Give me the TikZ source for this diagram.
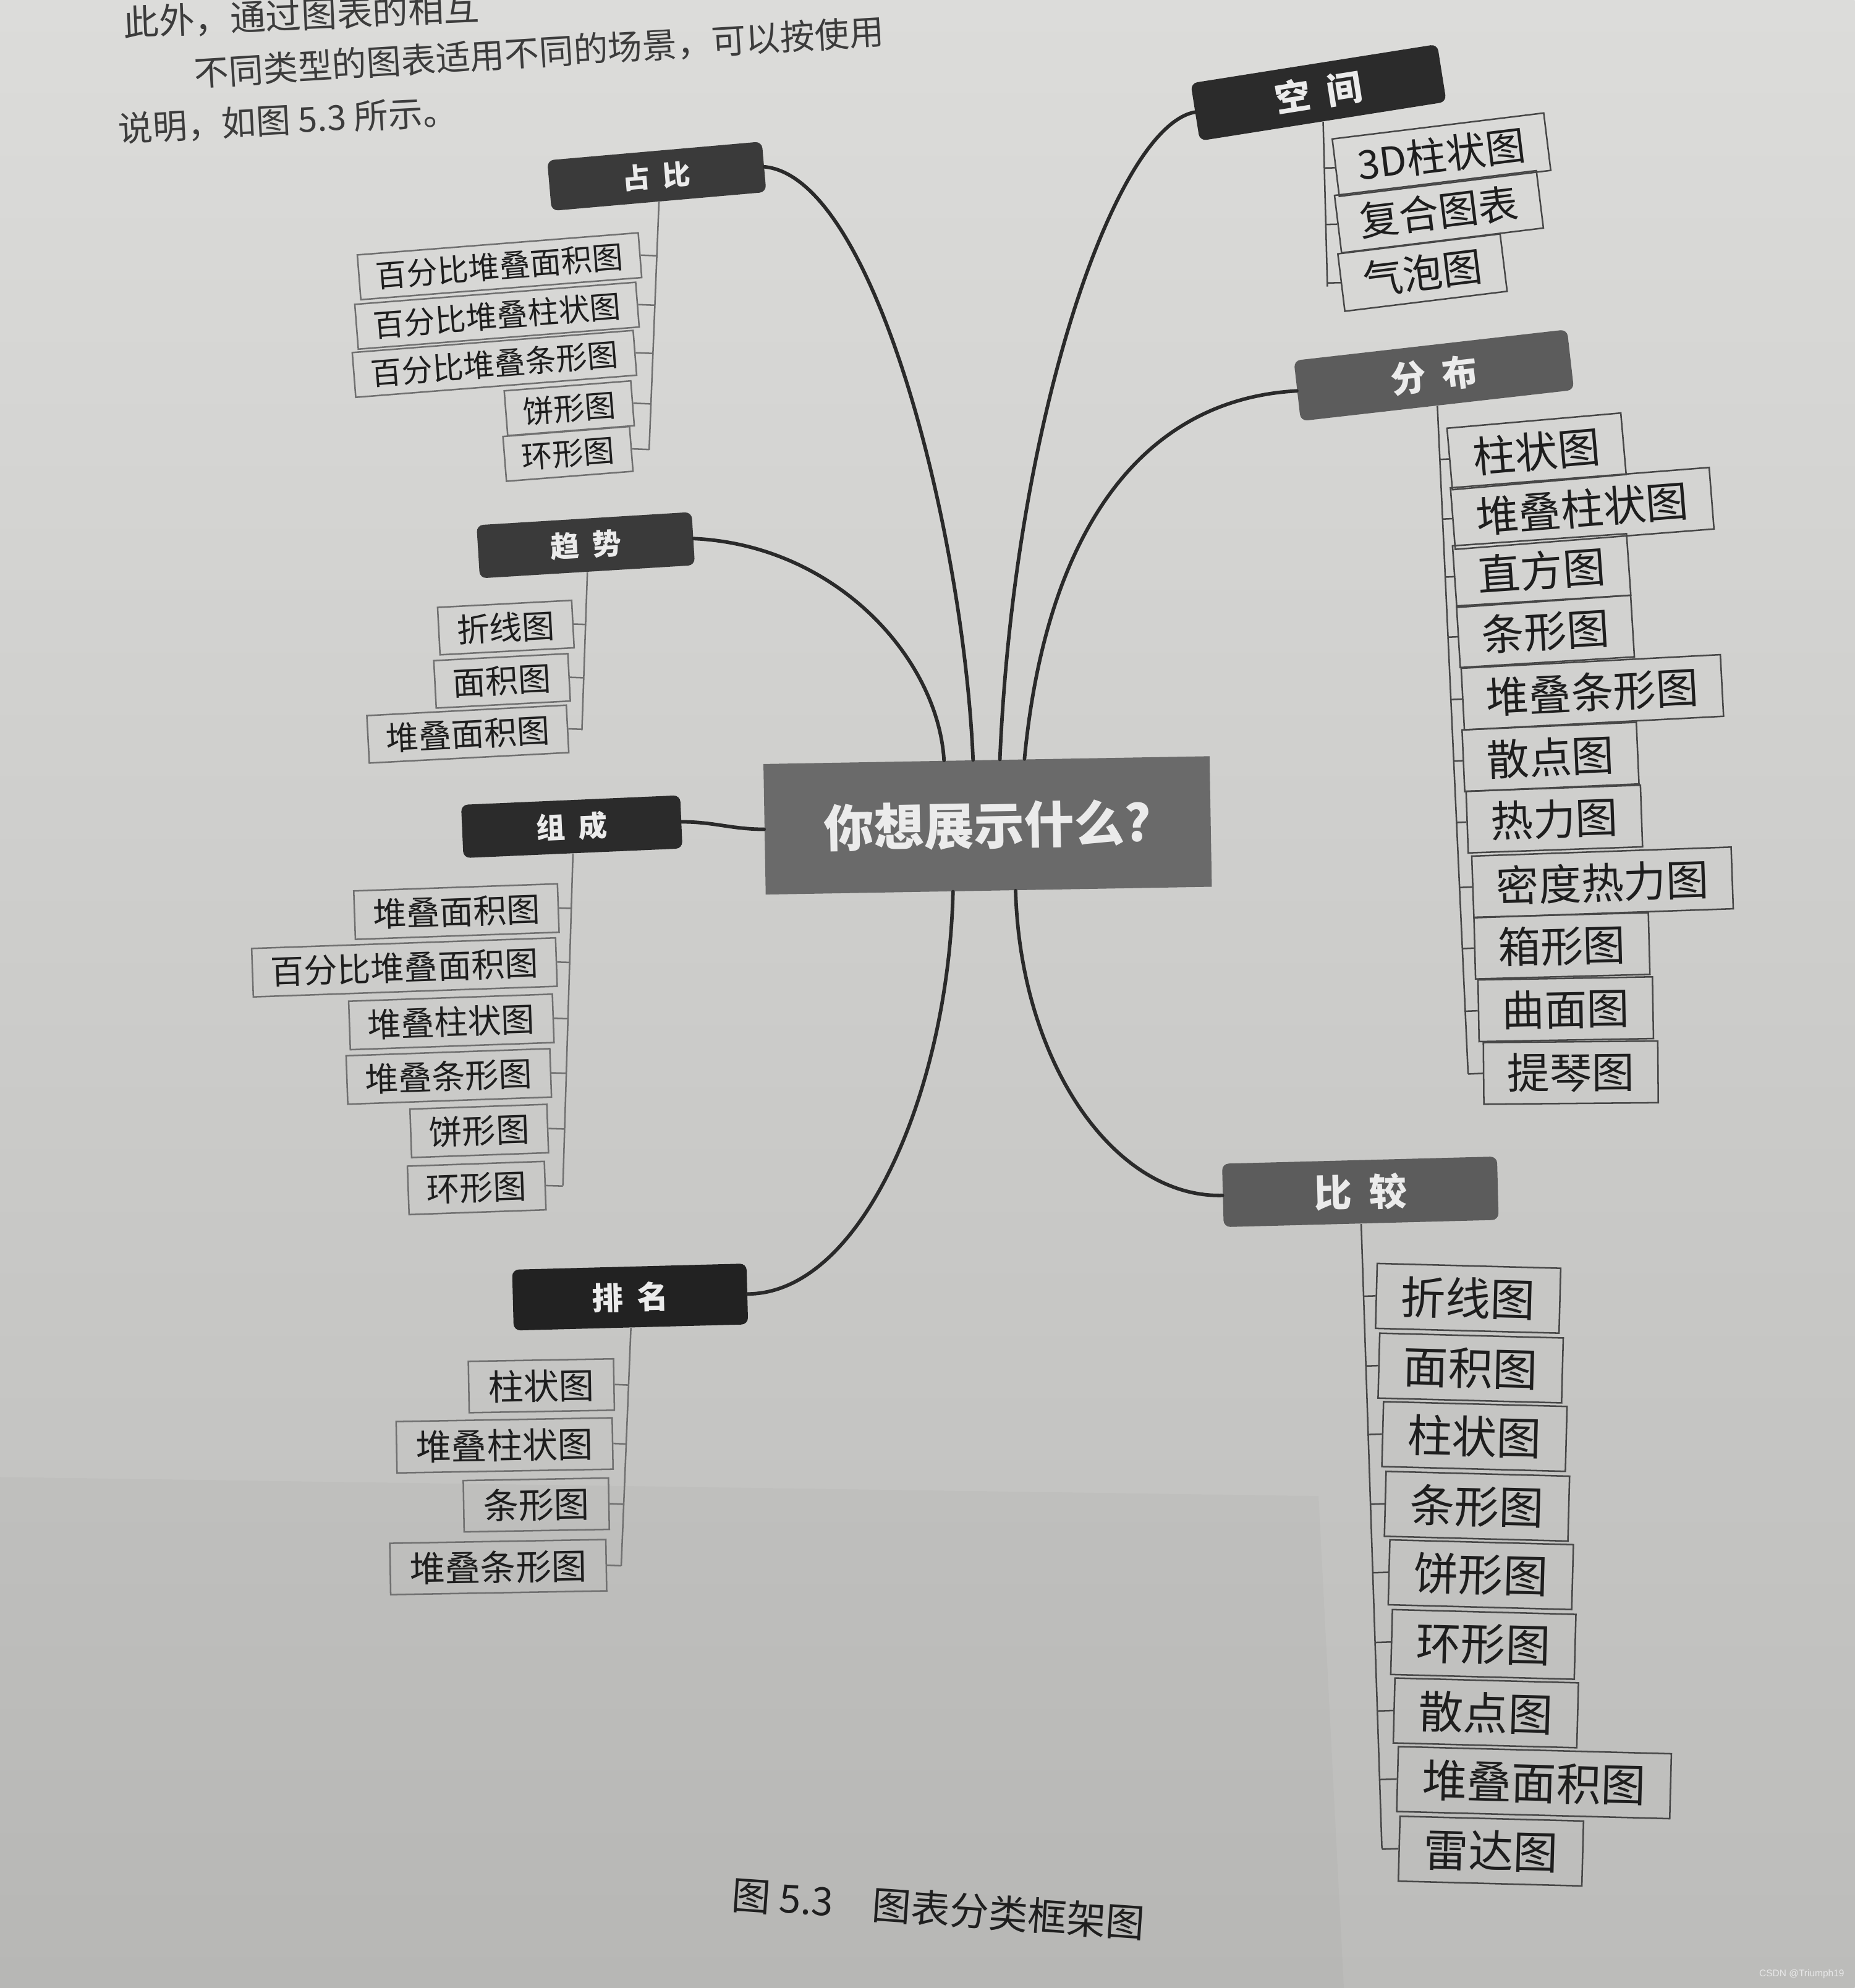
\documentclass[tikz,border=0pt]{standalone}
\usepackage{fontspec}
\newfontfamily\cjk{Noto Sans CJK SC}
\newfontfamily\wmfont{Liberation Sans}
\usetikzlibrary{calc}
\definecolor{bgtop}{HTML}{DCDCDA}
\definecolor{bgmid}{HTML}{D5D5D3}
\definecolor{bgbot}{HTML}{BCBCBA}
\definecolor{klineL}{HTML}{707070}
\definecolor{klineR}{HTML}{474747}
\definecolor{kidtext}{HTML}{1E1E1E}
\definecolor{conncol}{HTML}{2A2A2A}
\definecolor{hdark}{HTML}{2B2B2B}
\definecolor{hdarker}{HTML}{222222}
\definecolor{hgrey}{HTML}{3A3A3A}
\definecolor{hmid}{HTML}{5C5C5C}
\definecolor{hcenter}{HTML}{6A6A6A}
\definecolor{bodytext}{HTML}{3C3C3C}
\tikzset{
 kidbase/.style={line width=0.7pt, font=\cjk\fontsize{#1}{#1}\selectfont, inner xsep={0.55*#1pt}, inner ysep=0pt, minimum height={1.45*#1pt}, text=kidtext},
 kidL/.style={kidbase=#1, draw=klineL},
 kidR/.style={kidbase=#1, draw=klineR},
 head/.style n args={4}{fill=#1, rounded corners=3pt, text=white!92!black, font=\cjk\bfseries\fontsize{#2}{#2}\selectfont, minimum width=#3, minimum height=#4, inner sep=0pt},
 conn/.style={draw=conncol, line width=1.6pt, line cap=round},
 tline/.style={draw=#1, line width=0.7pt},
 bodyline/.style={font=\cjk\fontsize{#1}{#1}\selectfont, text=bodytext, anchor=west, inner sep=0pt},
}
\begin{document}
\begin{tikzpicture}[x=0.02cm, y=-0.02cm]
\useasboundingbox (0,0) rectangle (1463,1568);
\clip (0,0) rectangle (1463,1568);
\shade[top color=bgtop, middle color=bgmid, bottom color=bgbot] (0,0) rectangle (1463,1568);
\fill[black, opacity=0.025] (0,1165) -- (1040,1180) -- (1060,1568) -- (0,1568) -- cycle;

% page text
\node[bodyline=16, rotate=2.5] (t1) at (97,18) {此外，通过图表的相互};
\node[bodyline=15.5, rotate=3.5] (t2) at (153,58) {不同类型的图表适用不同的场景，可以按使用};
\node[bodyline=15.5, rotate=3] (t3) at (93,102) {说明，如图 5.3 所示。};
\node[bodyline=17.5, rotate=-4, text=black!88] (cap) at (577,1494) {图 5.3\hspace{1em}图表分类框架图};
\node[font=\wmfont\fontsize{4.3}{4.3}\selectfont, text=white!82!gray, anchor=east, inner sep=0pt] (wm) at (1455,1557) {CSDN @Triumph19};

% center
\node[head={hcenter}{22.5}{7.04cm}{2.06cm}, rounded corners=0pt, rotate=1] (c) at (779,651) {你想展示什么?};

% heads
\node[head={hgrey}{12.5}{3.4cm}{0.8cm}, rotate=5] (zb) at (518,139) {占\hspace{0.45em}比};
\node[head={hgrey}{13}{3.4cm}{0.84cm}, rotate=3.5] (qs) at (462,430) {趋\hspace{0.45em}势};
\node[head={hdark}{13}{3.46cm}{0.84cm}, rotate=2.5] (zc) at (451,652) {组\hspace{0.45em}成};
\node[head={hdarker}{14}{3.7cm}{0.96cm}, rotate=1.5] (pm) at (497,1023) {排\hspace{0.45em}名};
\node[head={hdark}{16}{3.94cm}{0.92cm}, rotate=9] (kj) at (1040,73) {空\hspace{0.45em}间};
\node[head={hmid}{16}{4.34cm}{0.96cm}, rotate=6.5] (fb) at (1131,296) {分\hspace{0.45em}布};
\node[head={hmid}{17}{4.34cm}{1.0cm}, rotate=1.5] (bj) at (1073,940) {比\hspace{0.45em}较};

% main connectors
\draw[conn] ($(c.north west)!0.47!(c.north east)$) .. controls (760,420) and (690,140) .. (zb.east);
\draw[conn] ($(c.north west)!0.405!(c.north east)$) .. controls (740,520) and (660,430) .. (qs.east);
\draw[conn] (c.west) to[out=180,in=0] (zc.east);
\draw[conn] ($(c.south west)!0.42!(c.south east)$) .. controls (748,860) and (680,1020) .. (pm.east);
\draw[conn] ($(c.north west)!0.53!(c.north east)$) .. controls (800,330) and (880,100) .. (kj.west);
\draw[conn] ($(c.north west)!0.585!(c.north east)$) .. controls (825,420) and (900,315) .. (fb.west);
\draw[conn] ($(c.south west)!0.56!(c.south east)$) .. controls (805,840) and (880,945) .. (bj.west);

% group 占比
\node[kidL=13.9, rotate=4.5] (zb1) at (394,210) {百分比堆叠面积图};
\node[kidL=13.9, rotate=4.5] (zb2) at (392,249) {百分比堆叠柱状图};
\node[kidL=13.9, rotate=4.5] (zb3) at (390,287) {百分比堆叠条形图};
\node[kidL=13.9, rotate=4.5] (zb4) at (449,322) {饼形图};
\node[kidL=13.9, rotate=4.5] (zb5) at (448,358) {环形图};
\coordinate (zbB) at (512,355);
\draw[tline=klineL] (zb.south) -- (zbB);
\foreach \i in {1,...,5}{\draw[tline=klineL] (zb\i.east) -- ($(zb.south)!(zb\i.east)!(zbB)$);}

% group 趋势
\node[kidL=14.7, rotate=3] (qs1) at (399,495) {折线图};
\node[kidL=14.7, rotate=3] (qs2) at (396,537) {面积图};
\node[kidL=14.7, rotate=3] (qs3) at (369,579) {堆叠面积图};
\coordinate (qsB) at (459,576);
\draw[tline=klineL] (qs.south) -- (qsB);
\foreach \i in {1,...,3}{\draw[tline=klineL] (qs\i.east) -- ($(qs.south)!(qs\i.east)!(qsB)$);}

% group 组成
\node[kidL=15, rotate=2] (zc1) at (360,719) {堆叠面积图};
\node[kidL=15, rotate=2] (zc2) at (319,763) {百分比堆叠面积图};
\node[kidL=15, rotate=2] (zc3) at (356,806) {堆叠柱状图};
\node[kidL=15, rotate=2] (zc4) at (354,849) {堆叠条形图};
\node[kidL=15, rotate=2] (zc5) at (378,892) {饼形图};
\node[kidL=15, rotate=2] (zc6) at (376,937) {环形图};
\coordinate (zcB) at (444,935);
\draw[tline=klineL] (zc.south) -- (zcB);
\foreach \i in {1,...,6}{\draw[tline=klineL] (zc\i.east) -- ($(zc.south)!(zc\i.east)!(zcB)$);}

% group 排名
\node[kidL=15.9, rotate=1] (pm1) at (427,1093) {柱状图};
\node[kidL=15.9, rotate=1] (pm2) at (398,1140) {堆叠柱状图};
\node[kidL=15.9, rotate=1] (pm3) at (423,1187) {条形图};
\node[kidL=15.9, rotate=1] (pm4) at (393,1236) {堆叠条形图};
\coordinate (pmB) at (490,1235);
\draw[tline=klineL] (pm.south) -- (pmB);
\foreach \i in {1,...,4}{\draw[tline=klineL] (pm\i.east) -- ($(pm.south)!(pm\i.east)!(pmB)$);}

% group 空间
\node[kidR=17.9, rotate=7] (kj1) at (1137,122) {3D柱状图};
\node[kidR=17.9, rotate=7] (kj2) at (1135,167) {复合图表};
\node[kidR=17.9, rotate=7] (kj3) at (1122,215) {气泡图};
\coordinate (kjB) at (1047,226);
\draw[tline=klineR] (kj.south) -- (kjB);
\foreach \i in {1,...,3}{\draw[tline=klineR] (kj\i.west) -- ($(kj.south)!(kj\i.west)!(kjB)$);}

% group 分布
\node[kidR=19.1, rotate=5] (fb1) at (1212,356) {柱状图};
\node[kidR=19.1, rotate=4.5] (fb2) at (1248,401) {堆叠柱状图};
\node[kidR=19.1, rotate=4] (fb3) at (1216,450) {直方图};
\node[kidR=19.1, rotate=3.5] (fb4) at (1219,498) {条形图};
\node[kidR=19.1, rotate=3] (fb5) at (1256,546) {堆叠条形图};
\node[kidR=19.1, rotate=2.5] (fb6) at (1223,597) {散点图};
\node[kidR=19.1, rotate=2] (fb7) at (1226,646) {热力图};
\node[kidR=19.1, rotate=2] (fb8) at (1264,696) {密度热力图};
\node[kidR=19.1, rotate=1.5] (fb9) at (1232,746) {箱形图};
\node[kidR=19.1, rotate=1] (fb10) at (1235,796) {曲面图};
\node[kidR=19.1, rotate=0.5] (fb11) at (1239,846) {提琴图};
\coordinate (fbB) at (1158,847);
\draw[tline=klineR] (fb.south) -- (fbB);
\foreach \i in {1,...,11}{\draw[tline=klineR] (fb\i.west) -- ($(fb.south)!(fb\i.west)!(fbB)$);}

% group 比较
\node[kidR=20.1, rotate=-1.5] (bj1) at (1158,1024) {折线图};
\node[kidR=20.1, rotate=-1.5] (bj2) at (1160,1079) {面积图};
\node[kidR=20.1, rotate=-1.5] (bj3) at (1163,1133) {柱状图};
\node[kidR=20.1, rotate=-1.5] (bj4) at (1165,1188) {条形图};
\node[kidR=20.1, rotate=-1.5] (bj5) at (1168,1242) {饼形图};
\node[kidR=20.1, rotate=-1.5] (bj6) at (1170,1297) {环形图};
\node[kidR=20.1, rotate=-1.5] (bj7) at (1172,1351) {散点图};
\node[kidR=20.1, rotate=-1.5] (bj8) at (1210,1406) {堆叠面积图};
\node[kidR=20.1, rotate=-1.5] (bj9) at (1176,1460) {雷达图};
\coordinate (bjB) at (1090,1458);
\draw[tline=klineR] (bj.south) -- (bjB);
\foreach \i in {1,...,9}{\draw[tline=klineR] (bj\i.west) -- ($(bj.south)!(bj\i.west)!(bjB)$);}
\end{tikzpicture}
\end{document}
